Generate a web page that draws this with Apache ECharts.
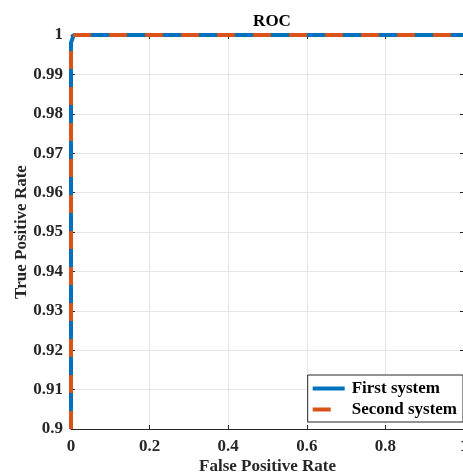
<!DOCTYPE html>
<html><head><meta charset="utf-8">
<script src="https://cdn.jsdelivr.net/npm/echarts@6/dist/echarts.min.js"></script>
<style>html,body{margin:0;padding:0;background:#fff}#c{width:463px;height:472px}</style>
</head><body><div id="c"></div>
<script>
const seriesNames = ['First system', 'Second system'];
const firstFPR = [0, 0, 0.004, 0.007, 1];
const firstTPR = [0.9, 0.998, 0.9985, 1, 1];
const secondFPR = [0, 0, 0.01, 0.01, 1];
const secondTPR = [0.9, 0.997, 0.997, 1, 1];
const xTicks = [0, 0.2, 0.4, 0.6, 0.8, 1];
const yTicks = [0.9, 0.91, 0.92, 0.93, 0.94, 0.95, 0.96, 0.97, 0.98, 0.99, 1];

const font = 'Liberation Serif';
const chart = echarts.init(document.getElementById('c'));
const toPairs = (xs, ys) => xs.map((x, i) => [x, ys[i]]);
const fmt = v => String(Math.round(v * 100) / 100);
const axisCommon = {
  axisLine: { show: true, onZero: false, lineStyle: { color: '#262626', width: 1 } },
  axisTick: { show: true, inside: true, length: 4, lineStyle: { color: '#262626' } },
};
chart.setOption({
  animation: false,
  title: { text: 'ROC', left: 267, top: 8, textAlign: 'center',
    textStyle: { fontFamily: font, fontWeight: 'bold', fontSize: 17, color: '#000' } },
  grid: { left: 71, right: -1, top: 35, bottom: 43, containLabel: false, outerBoundsMode: 'none' },
  legend: {
    data: [
      { name: seriesNames[0], icon: 'path://M0,5 L32,5 L32,9 L0,9 Z M34,0 L34,14 Z' },
      { name: seriesNames[1], icon: 'path://M0,5 L18,5 L18,9 L0,9 Z M34,0 L34,14 Z' }
    ],
    orient: 'vertical', right: 0, bottom: 50,
    backgroundColor: '#fff', borderColor: '#262626', borderWidth: 1,
    padding: [5, 6, 4, 5], itemGap: 4, itemWidth: 34, itemHeight: 14,
    itemStyle: { borderWidth: 0 },
    textStyle: { fontFamily: font, fontWeight: 'bold', fontSize: 17, color: '#000' }
  },
  xAxis: [{
    type: 'value', min: 0, max: 1, interval: 0.2, position: 'bottom',
    name: 'False Positive Rate', nameLocation: 'middle', nameGap: 29, nameMoveOverlap: false,
    nameTextStyle: { fontFamily: font, fontWeight: 'bold', fontSize: 17, color: '#262626' },
    axisLabel: { fontFamily: font, fontWeight: 'bold', fontSize: 17, color: '#262626', margin: 9, formatter: fmt },
    splitLine: { show: true, lineStyle: { color: '#e5e5e5' } },
    ...axisCommon
  }, {
    type: 'value', min: 0, max: 1, interval: 0.2, position: 'top',
    axisLabel: { show: false }, splitLine: { show: false }, ...axisCommon
  }],
  yAxis: [{
    type: 'value', min: 0.9, max: 1, interval: 0.01, position: 'left',
    name: 'True Positive Rate', nameLocation: 'middle', nameGap: 41, nameMoveOverlap: false,
    nameTextStyle: { fontFamily: font, fontWeight: 'bold', fontSize: 17, color: '#262626' },
    axisLabel: { fontFamily: font, fontWeight: 'bold', fontSize: 17, color: '#262626', margin: 8, formatter: fmt },
    splitLine: { show: true, lineStyle: { color: '#e5e5e5' } },
    ...axisCommon
  }, {
    type: 'value', min: 0.9, max: 1, interval: 0.01, position: 'right',
    axisLabel: { show: false }, splitLine: { show: false }, ...axisCommon
  }],
  series: [{
    name: seriesNames[0], type: 'line', data: toPairs(firstFPR, firstTPR),
    symbol: 'none', smooth: false, clip: false, color: '#0072BD',
    lineStyle: { width: 4, color: '#0072BD' }
  }, {
    name: seriesNames[1], type: 'line', data: toPairs(secondFPR, secondTPR),
    symbol: 'none', clip: false, color: '#D95319',
    lineStyle: { width: 4, color: '#D95319', type: [18, 18] }
  }]
});
</script></body></html>
